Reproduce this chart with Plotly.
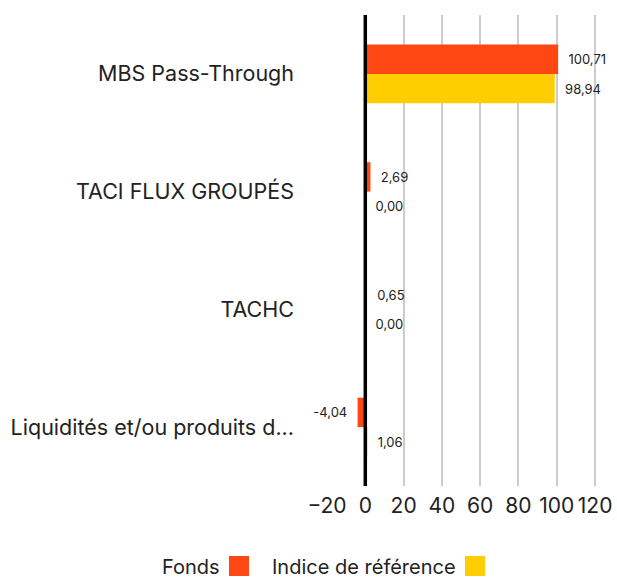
import plotly.graph_objects as go

categories = ["MBS Pass-Through", "TACI FLUX GROUPÉS", "TACHC", "Liquidités et/ou produits d..."]
fonds = [100.71, 2.69, 0.65, -4.04]
indice = [98.94, 0.00, 0.00, 1.06]
series_names = ["Fonds", "Indice de référence"]
colors = ["#ff4713", "#ffce00"]
x_ticks = [-20, 0, 20, 40, 60, 80, 100, 120]

FONT = "Inter"
W, H = 617, 581
L, R, T, B = 327, 20, 15, 581 - 486
plot_w = W - L - R
plot_h = H - T - B

fig = go.Figure()
for name, vals, col in zip(series_names, [fonds, indice], colors):
    fig.add_trace(go.Bar(
        y=categories, x=vals, orientation="h", name=name,
        marker=dict(color=col, line=dict(width=0)),
        text=vals, texttemplate="  %{x:.2f}  ", textposition="outside",
        textfont=dict(size=13, color="#222", family=FONT),
        cliponaxis=False, showlegend=False,
    ))

fig.update_layout(
    width=W, height=H,
    margin=dict(l=L, r=R, t=T, b=B, autoexpand=False),
    plot_bgcolor="white", paper_bgcolor="white",
    barmode="group", bargap=0.5, bargroupgap=0,
    separators=", ",
    font=dict(family=FONT, color="#222"),
    xaxis=dict(range=[-20, 121], tickvals=x_ticks, showgrid=True, gridcolor="#cccccc",
               gridwidth=2, zeroline=False,
               tickfont=dict(size=21, family=FONT, color="#222"), showline=False,
               ticks="", ticklabelstandoff=5, automargin=False, fixedrange=True),
    yaxis=dict(autorange="reversed", showgrid=False, zeroline=False, showline=False,
               tickfont=dict(size=21.5, family=FONT, color="#222"), ticks="",
               ticklabelstandoff=32, automargin=False),
)

# zero line drawn above the bars, as in the reference
fig.add_shape(type="line", xref="x", yref="paper", x0=0, x1=0, y0=0, y1=1,
              line=dict(color="black", width=3.5), layer="above")

# legend built from annotations + squares (text before swatch, as in reference)
plot_bottom = H - B
legend_items = [(series_names[0], colors[0], 222), (series_names[1], colors[1], 458)]
for name, col, xr in legend_items:
    fig.add_annotation(xref="paper", yref="paper", x=(xr - L) / plot_w,
                       y=(plot_bottom - 567) / plot_h,
                       xanchor="right", yanchor="middle", text=name, showarrow=False,
                       font=dict(size=20, family=FONT, color="#222"))
    x0 = (xr + 7 - L) / plot_w
    fig.add_shape(type="rect", xref="paper", yref="paper",
                  x0=x0, x1=x0 + 20 / plot_w,
                  y0=(plot_bottom - 556) / plot_h,
                  y1=(plot_bottom - 576) / plot_h,
                  fillcolor=col, line=dict(width=0))

fig.write_html(
    "out.html",
    config={"displayModeBar": False},
    post_script="document.body.style.margin='0';document.body.style.overflow='hidden';",
)
